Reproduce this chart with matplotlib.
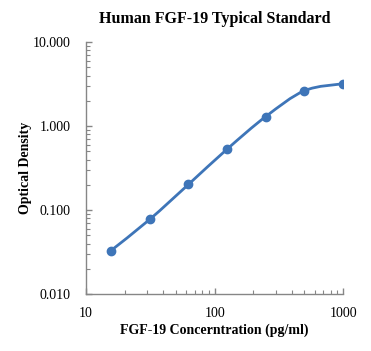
import numpy as np
import matplotlib
matplotlib.use('Agg')
import matplotlib.pyplot as plt
from matplotlib.path import Path
from matplotlib.patches import PathPatch
from matplotlib.ticker import LogLocator, FixedLocator, FixedFormatter

conc = [15.625, 31.25, 62.5, 125, 250, 500, 1000]
od = [0.033, 0.0775, 0.202, 0.532, 1.30, 2.64, 3.20]

x_ticks = [10, 100, 1000]
x_labels = ['10', '100', '1000']
y_ticks = [0.01, 0.1, 1, 10]
y_labels = ['0.010', '0.100', '1.000', '10.000']

plt.rcParams['font.family'] = ['Liberation Serif', 'DejaVu Serif']

fig = plt.figure(figsize=(3.71, 3.51), dpi=100)
ax = fig.add_axes([0.232, 0.162, 0.693, 0.718])
ax.set_xscale('log')
ax.set_yscale('log')
ax.set_xlim(10, 1000)
ax.set_ylim(0.01, 10)

color = '#3E75B8'

# smooth line like Excel: bezier segments built in log space
lx = np.log10(conc)
ly = np.log10(od)
n = len(lx)
verts = [(conc[0], od[0])]
codes = [Path.MOVETO]
for i in range(n - 1):
    p0 = (lx[max(i - 1, 0)], ly[max(i - 1, 0)])
    p1 = (lx[i], ly[i])
    p2 = (lx[i + 1], ly[i + 1])
    p3 = (lx[min(i + 2, n - 1)], ly[min(i + 2, n - 1)])
    c1 = (p1[0] + (p2[0] - p0[0]) / 6, p1[1] + (p2[1] - p0[1]) / 6)
    c2 = (p2[0] - (p3[0] - p1[0]) / 6, p2[1] - (p3[1] - p1[1]) / 6)
    for c in (c1, c2, p2):
        verts.append((10 ** c[0], 10 ** c[1]))
    codes += [Path.CURVE4] * 3
ax.add_patch(PathPatch(Path(verts, codes), facecolor='none', edgecolor=color,
                       lw=2.0, capstyle='round', zorder=2))
ax.plot(conc, od, 'o', color=color, markersize=6, zorder=3)

for s in ['top', 'right']:
    ax.spines[s].set_visible(False)
for s in ['left', 'bottom']:
    ax.spines[s].set_color('#868686')
    ax.spines[s].set_linewidth(1.0)

ax.xaxis.set_major_locator(FixedLocator(x_ticks))
ax.xaxis.set_major_formatter(FixedFormatter(x_labels))
ax.yaxis.set_major_locator(FixedLocator(y_ticks))
ax.yaxis.set_major_formatter(FixedFormatter(y_labels))
ax.xaxis.set_minor_locator(LogLocator(base=10, subs=np.arange(2, 10)))
ax.yaxis.set_minor_locator(LogLocator(base=10, subs=np.arange(2, 10)))
ax.xaxis.set_minor_formatter(plt.NullFormatter())
ax.yaxis.set_minor_formatter(plt.NullFormatter())
ax.tick_params(which='both', direction='in', color='#868686', labelsize=10)
ax.tick_params(which='major', length=4, width=1)
ax.tick_params(which='minor', length=3, width=0.8)
ax.tick_params(axis='y', which='major', pad=11)
ax.tick_params(axis='x', which='major', pad=9)

ax.set_title('Human FGF-19 Typical Standard', fontsize=11.5, fontweight='bold', pad=14)
ax.set_xlabel('FGF-19 Concerntration (pg/ml)', fontsize=10, fontweight='bold', labelpad=3)
ax.set_ylabel('Optical Density', fontsize=10, fontweight='bold', labelpad=1)

fig.savefig('out.png', dpi=100)
